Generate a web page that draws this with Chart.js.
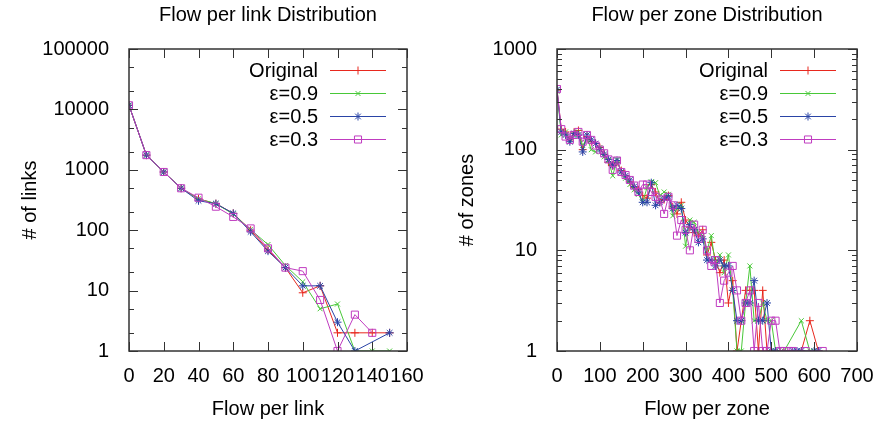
<!DOCTYPE html>
<html>
<head>
<meta charset="utf-8">
<script src="https://cdn.jsdelivr.net/npm/chart.js@4.4.1/dist/chart.umd.min.js"></script>
<style>
  body { margin: 0; background: #fff; }
  #wrap { position: relative; width: 882px; height: 422px; }
  canvas { position: absolute; top: 0; }
</style>
</head>
<body>
<div id="wrap">
  <canvas id="linkChart" width="441" height="422" style="left:0"></canvas>
  <canvas id="zoneChart" width="441" height="422" style="left:441px"></canvas>
</div>
<script>
// series labels, shared by both panels
const seriesNames = ["Original", "ε=0.9", "ε=0.5", "ε=0.3"];

// ---- Flow per link ----
const linkFlow = [0, 10, 20, 30, 40, 50, 60, 70, 80, 90, 100, 110, 120, 130, 140, 150];
const linkOriginal = [11700, 1750, 920, 495, 330, 275, 190, 100, 47, 24, 9.2, 12, 2, 2, 2, 2];
const linkEps09 = [11700, 1750, 920, 500, 330, 275, 185, 102, 58, 26, 14, 5, 6, 1, 1, 1];
const linkEps05 = [11700, 1750, 920, 495, 307, 275, 190, 94, 45, 24, 12, 12, 3, 1, null, 2];
const linkEps03 = [11700, 1750, 920, 495, 345, 245, 166, 107, 50, 24, 21, 7, 1, 4, 2, null];
const linkXTicks = [0, 20, 40, 60, 80, 100, 120, 140, 160];
const linkYTicks = [1, 10, 100, 1000, 10000, 100000];

// ---- Flow per zone ----
const zoneFlow = [0, 10, 20, 30, 40, 50, 60, 70, 80, 90,
  100, 110, 120, 130, 140, 150, 160, 170, 180, 190,
  200, 210, 220, 230, 240, 250, 260, 270, 280, 290,
  300, 310, 320, 330, 340, 350, 360, 370, 380, 390,
  400, 410, 420, 430, 440, 450, 460, 470, 480, 490,
  500, 510, 520, 530, 540, 550, 560, 570, 580, 590,
  600, 610, 620];
const zoneOriginal = [390, 160, 150, 125, 150, 155, 100, 135, 120, 115,
  105, 90, 75, 70, 75, 62, 55, 48, 42, 40,
  35, 33, 45, 38, 30, 32, 35, 27, 23, 30,
  20, 17, 15, 14, 16, 9, 12, 8, 6, 8,
  3, 5, 1, 2, 4, 4, 4, 1, 4, 1,
  1, null, null, null, null, null, null, 1, null, 2,
  null, 1, null];
const zoneEps09 = [380, 140, 150, 120, 140, 150, 110, 130, 100, 95,
  105, 85, 78, 55, 80, 60, 52, 45, 40, 36,
  30, 42, 48, 47, 35, 38, 36, 22, 26, 28,
  11, 20, 19, 15, 14, 10, 14, 7, 9, 6,
  9, 4, 1, 1, 3, 7, 2, 2, 3, 2,
  2, 1, null, 1, null, null, null, 2, null, 1,
  null, null, null];
const zoneEps05 = [395, 150, 140, 120, 145, 140, 95, 140, 125, 115,
  100, 90, 80, 70, 78, 60, 55, 50, 43, 38,
  30, 30, 47, 28, 30, 33, 34, 26, 28, 26,
  15, 18, 16, 12, 13, 8, 8, 7, 8, 7,
  7, 4, 2, 2, 3, 3, 5, 2, 2, 3,
  1, 1, null, null, null, 1, 1, 1, null, null,
  1, 1, null];
const zoneEps03 = [400, 160, 135, 125, 140, 150, 120, 140, 125, 110,
  100, 92, 80, 63, 78, 60, 56, 50, 44, 38,
  45, 45, 38, 34, 32, 23, 34, 28, 14, 20,
  16, 10, 18, 13, 16, 10, 7, 8, 3, 5,
  6, 7, 4, 2, 3, 4, 1, 3, 1, 1,
  2, 2, 1, 1, 1, 1, null, null, 1, null,
  null, null, 1];
const zoneXTicks = [0, 100, 200, 300, 400, 500, 600, 700];
const zoneYTicks = [1, 10, 100, 1000];

Chart.defaults.font.family = "'Liberation Sans', Arial, sans-serif";
Chart.defaults.font.size = 20;
Chart.defaults.color = "#000";

const styles = [
  {color: "#e8281e", pointStyle: "cross", pointRadius: 4, order: 4},
  {color: "#48c838", pointStyle: "crossRot", pointRadius: 3.5, order: 3},
  {color: "#2a44a6", pointStyle: "star", pointRadius: 4, order: 2},
  {color: "#c03cc0", pointStyle: "rect", pointRadius: 5, order: 1}
];

function makeSets(xs, series) {
  return series.map((ys, i) => ({
    label: seriesNames[i],
    data: xs.map((x, j) => ({x: x, y: ys[j]})),
    borderColor: styles[i].color,
    backgroundColor: "transparent",
    pointBorderColor: styles[i].color,
    pointBackgroundColor: "transparent",
    pointStyle: styles[i].pointStyle,
    pointRadius: styles[i].pointRadius,
    pointBorderWidth: 1,
    borderWidth: 1,
    order: styles[i].order,
    spanGaps: true,
    tension: 0
  }));
}

// gnuplot-like frame: border, inward ticks on all sides, key in the top right
const gnuFrame = {
  id: "gnuFrame",
  afterDraw(chart, args, opts) {
    const ctx = chart.ctx, a = chart.chartArea;
    const xs = chart.scales.x, ys = chart.scales.y;
    ctx.save();
    ctx.strokeStyle = "#333";
    ctx.lineWidth = 1;
    ctx.beginPath();
    xs.ticks.forEach(t => {
      const px = Math.round(xs.getPixelForValue(t.value)) + 0.5;
      ctx.moveTo(px, a.bottom); ctx.lineTo(px, a.bottom - 9);
      ctx.moveTo(px, a.top); ctx.lineTo(px, a.top + 9);
    });
    ys.ticks.forEach(t => {
      const py = Math.round(ys.getPixelForValue(t.value)) + 0.5;
      ctx.moveTo(a.left, py); ctx.lineTo(a.left + 9, py);
      ctx.moveTo(a.right, py); ctx.lineTo(a.right - 9, py);
    });
    ys.ticks.forEach(t => {
      opts.minor.forEach(m => {
        const v = t.value * m;
        if (v >= ys.max) return;
        const py = Math.round(ys.getPixelForValue(v)) + 0.5;
        ctx.moveTo(a.left, py); ctx.lineTo(a.left + 5, py);
        ctx.moveTo(a.right, py); ctx.lineTo(a.right - 5, py);
      });
    });
    ctx.stroke();
    ctx.lineWidth = 1.5;
    ctx.strokeRect(a.left, a.top, a.right - a.left, a.bottom - a.top);

    // key
    ctx.font = "20px 'Liberation Sans', Arial, sans-serif";
    ctx.textAlign = "right";
    ctx.textBaseline = "middle";
    chart.data.datasets.forEach((ds, i) => {
      const ly = a.top + 21 + i * 23 + 0.5;
      ctx.fillStyle = "#000";
      ctx.fillText(ds.label, a.right - 89, ly + 1);
      ctx.strokeStyle = ds.borderColor;
      ctx.fillStyle = "rgba(0,0,0,0)";
      ctx.lineWidth = 1;
      ctx.beginPath();
      ctx.moveTo(a.right - 77, ly); ctx.lineTo(a.right - 21, ly);
      ctx.stroke();
      Chart.helpers.drawPoint(ctx, {
        pointStyle: ds.pointStyle, radius: ds.pointRadius, rotation: 0,
        borderWidth: 1
      }, a.right - 49, ly);
    });
    ctx.restore();
  }
};

function makeChart(id, cfg) {
  return new Chart(document.getElementById(id), {
    type: "line",
    data: {datasets: makeSets(cfg.xs, cfg.series)},
    plugins: [gnuFrame],
    options: {
      responsive: false,
      animation: false,
      devicePixelRatio: 1,
      layout: {padding: {left: 0, right: cfg.padRight, top: 0, bottom: 0}},
      plugins: {
        legend: {display: false},
        tooltip: {enabled: false},
        title: {
          display: true, text: cfg.title, fullSize: false,
          font: {size: 20, weight: "normal"}, color: "#000",
          padding: {top: 3, bottom: 22}
        },
        gnuFrame: {minor: cfg.minor}
      },
      scales: {
        x: {
          type: "linear", min: cfg.xTicks[0], max: cfg.xTicks[cfg.xTicks.length - 1],
          grid: {display: false}, border: {display: false},
          afterBuildTicks: s => { s.ticks = cfg.xTicks.map(v => ({value: v})); },
          ticks: {autoSkip: false, maxRotation: 0, padding: 5, callback: v => String(v)},
          title: {display: true, text: cfg.xTitle, padding: {top: 0, bottom: 1}},
          afterFit: s => { s.height = 71; }
        },
        y: {
          type: "logarithmic", min: cfg.yTicks[0], max: cfg.yTicks[cfg.yTicks.length - 1],
          grid: {display: false}, border: {display: false},
          afterBuildTicks: s => { s.ticks = cfg.yTicks.map(v => ({value: v})); },
          ticks: {autoSkip: false, padding: 12, callback: v => String(v)},
          title: {display: true, text: cfg.yTitle, padding: {top: cfg.yTitlePad, bottom: 0}},
          afterFit: s => { s.width = cfg.yWidth; }
        }
      }
    }
  });
}

makeChart("linkChart", {
  xs: linkFlow,
  series: [linkOriginal, linkEps09, linkEps05, linkEps03],
  title: "Flow per link Distribution",
  xTitle: "Flow per link", yTitle: "# of links",
  xTicks: linkXTicks, yTicks: linkYTicks,
  minor: [2, 5],
  yWidth: 129, padRight: 34, yTitlePad: 18
});

makeChart("zoneChart", {
  xs: zoneFlow,
  series: [zoneOriginal, zoneEps09, zoneEps05, zoneEps03],
  title: "Flow per zone Distribution",
  xTitle: "Flow per zone", yTitle: "# of zones",
  xTicks: zoneXTicks, yTicks: zoneYTicks,
  minor: [2, 3, 4, 5, 6, 7, 8, 9],
  yWidth: 116, padRight: 25, yTitlePad: 14
});
</script>
</body>
</html>
